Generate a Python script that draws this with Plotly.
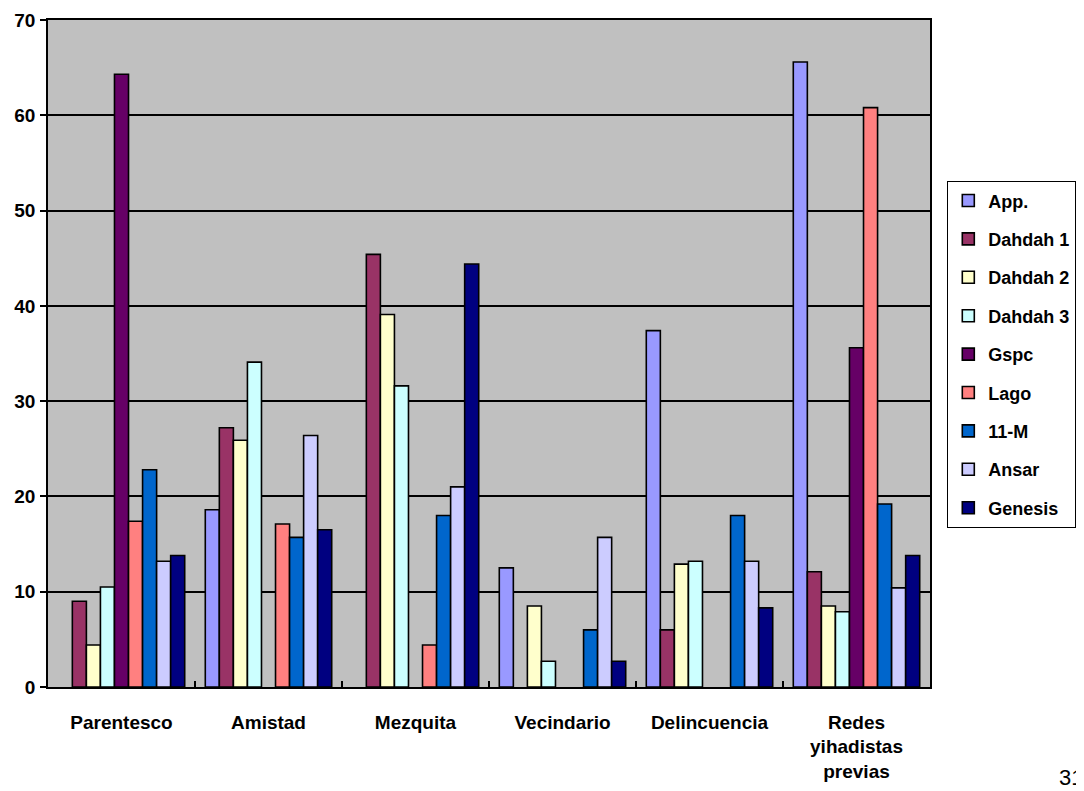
import plotly.graph_objects as go

categories = ["Parentesco", "Amistad", "Mezquita", "Vecindario", "Delincuencia",
              "Redes<br>yihadistas<br>previas"]

series_names = ["App.", "Dahdah 1", "Dahdah 2", "Dahdah 3", "Gspc", "Lago", "11-M", "Ansar", "Genesis"]

# None = no bar drawn for that category
app = [None, 18.6, None, 12.5, 37.4, 65.6]
dahdah1 = [9.0, 27.2, 45.4, None, 6.0, 12.1]
dahdah2 = [4.4, 25.9, 39.1, 8.5, 12.9, 8.5]
dahdah3 = [10.5, 34.1, 31.6, 2.7, 13.2, 7.9]
gspc = [64.3, None, None, None, None, 35.6]
lago = [17.4, 17.1, 4.4, None, None, 60.8]
m11 = [22.8, 15.7, 18.0, 6.0, 18.0, 19.2]
ansar = [13.2, 26.4, 21.0, 15.7, 13.2, 10.4]
genesis = [13.8, 16.5, 44.4, 2.7, 8.3, 13.8]

values = [app, dahdah1, dahdah2, dahdah3, gspc, lago, m11, ansar, genesis]
colors = ["#9999FF", "#993366", "#FFFFCC", "#CCFFFF", "#660066", "#FF8080", "#0066CC", "#CCCCFF", "#000080"]

FONT = "Arial, Liberation Sans, sans-serif"
W, H = 1076, 783  # page body adds an 8px offset

fig = go.Figure()
for name, vals, col in zip(series_names, values, colors):
    fig.add_trace(go.Bar(
        x=categories, y=vals, name=name, legendgroup=name,
        marker=dict(color=col, line=dict(color="black", width=1.6)),
    ))

fig.update_layout(
    width=W, height=H,
    margin=dict(l=40, r=154, t=12, b=104, autoexpand=False),
    paper_bgcolor="white", plot_bgcolor="#C0C0C0",
    barmode="group", bargap=0.14, bargroupgap=0,
    font=dict(family=FONT, size=18, color="black"),
    legend=dict(
        xref="container", yref="container",
        x=(947 - 8) / W, y=1 - (181 - 8) / H, xanchor="left", yanchor="top",
        bgcolor="white", bordercolor="black", borderwidth=1.3,
        font=dict(family=FONT, size=18, color="black", weight="bold"),
        tracegroupgap=12, itemwidth=30,
    ),
    showlegend=True,
)

fig.update_xaxes(
    automargin=False,
    showline=True, linecolor="black", linewidth=1.8, mirror=True,
    ticks="inside", ticklen=6, tickcolor="black", tickwidth=1.5, tickson="boundaries",
    tickfont=dict(family=FONT, size=19, weight="bold"),
    ticklabelstandoff=17,
    showgrid=False,
)
fig.update_yaxes(
    automargin=False,
    range=[0, 70], dtick=10,
    showline=True, linecolor="black", linewidth=1.8, mirror=True,
    ticks="outside", ticklen=6, tickcolor="black", tickwidth=1.5,
    tickfont=dict(family=FONT, size=19, weight="bold"),
    ticklabelstandoff=1,
    gridcolor="black", gridwidth=1.5,
    zeroline=False,
)

fig.add_annotation(
    text="31", xref="paper", yref="paper", x=(1049 - 40) / 882, y=-(769 - 679) / 667,
    xanchor="left", yanchor="middle", showarrow=False,
    font=dict(family=FONT, size=22, color="black"),
)

fig.write_html("out.html")
